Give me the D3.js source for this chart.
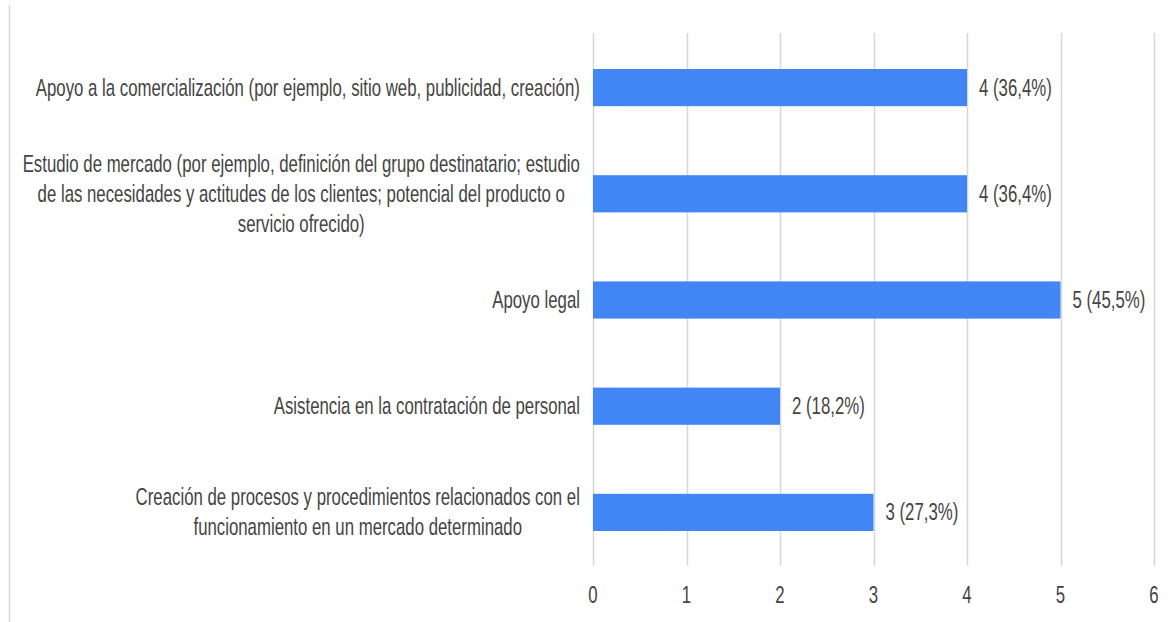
<!DOCTYPE html>
<html>
<head>
<meta charset="utf-8">
<script src="https://cdn.jsdelivr.net/npm/d3@7"></script>
<style>
  body { margin: 0; background: #fff; }
  svg { display: block; }
  text { font-family: "Liberation Sans", Arial, sans-serif; fill: #444; font-size: 24px; }
</style>
</head>
<body>
<div id="chart"></div>
<script>
// category labels, already split into lines as in the picture
var categories = [
    ["Apoyo a la comercialización (por ejemplo, sitio web, publicidad, creación)"],
    ["Estudio de mercado (por ejemplo, definición del grupo destinatario; estudio",
     "de las necesidades y actitudes de los clientes; potencial del producto o",
     "servicio ofrecido)"],
    ["Apoyo legal"],
    ["Asistencia en la contratación de personal"],
    ["Creación de procesos y procedimientos relacionados con el",
     "funcionamiento en un mercado determinado"]
];
var counts = [4, 4, 5, 2, 3];
var percents = ["36,4%", "36,4%", "45,5%", "18,2%", "27,3%"];
var xTicks = [0, 1, 2, 3, 4, 5, 6];

var width = 1173, height = 622;
var sx = 0.70;      // the text in the picture is horizontally squeezed
var lineH = 30;

var svg = d3.select("#chart").append("svg")
    .attr("width", width)
    .attr("height", height);

// light frame line on the left
svg.append("line")
    .attr("x1", 9.5).attr("x2", 9.5)
    .attr("y1", 5).attr("y2", height)
    .style("stroke", "#dadada")
    .style("stroke-width", 1.5);

var xScale = d3.scaleLinear().domain([0, 6]).range([593, 1154]);
var yScale = d3.scaleBand()
    .domain(d3.range(categories.length))
    .range([34.5, 565.5])
    .paddingInner(0.65)
    .paddingOuter(0.325);

function squeeze(x, y) {
    return "translate(" + x + "," + y + ") scale(" + sx + ",1)";
}

// vertical grid lines
svg.selectAll(".grid")
    .data(xTicks)
    .enter().append("line")
    .attr("class", "grid")
    .attr("x1", d => Math.round(xScale(d)) + 0.5)
    .attr("x2", d => Math.round(xScale(d)) + 0.5)
    .attr("y1", 33)
    .attr("y2", 565.5)
    .style("stroke", "#d6d6d6")
    .style("stroke-width", 1.5);

// x tick labels
svg.selectAll(".xlab")
    .data(xTicks)
    .enter().append("text")
    .attr("class", "xlab")
    .attr("transform", d => squeeze(xScale(d), 603))
    .attr("text-anchor", "middle")
    .text(d => d);

// bars
svg.selectAll(".bar")
    .data(counts)
    .enter().append("rect")
    .attr("class", "bar")
    .attr("x", xScale(0))
    .attr("y", (d, i) => yScale(i))
    .attr("width", d => xScale(d) - xScale(0))
    .attr("height", yScale.bandwidth())
    .style("fill", "#4285f4");

// value labels
svg.selectAll(".val")
    .data(counts)
    .enter().append("text")
    .attr("class", "val")
    .attr("transform", (d, i) => squeeze(xScale(d) + 12, yScale(i) + yScale.bandwidth() / 2 + 8))
    .text((d, i) => d + " (" + percents[i] + ")");

// category labels, centred lines, block ending left of the axis
svg.selectAll(".cat")
    .data(categories)
    .enter().append("text")
    .attr("class", "cat")
    .attr("text-anchor", "middle")
    .each(function(lines, i) {
        var t = d3.select(this);
        var cy = yScale(i) + yScale.bandwidth() / 2 + 8;
        lines.forEach(function(l, j) {
            t.append("tspan")
                .attr("x", 0)
                .attr("y", cy + (j - (lines.length - 1) / 2) * lineH)
                .text(l);
        });
        var w = this.getBBox().width * sx;
        t.attr("transform", squeeze(580 - w / 2, 0));
    });
</script>
</body>
</html>
